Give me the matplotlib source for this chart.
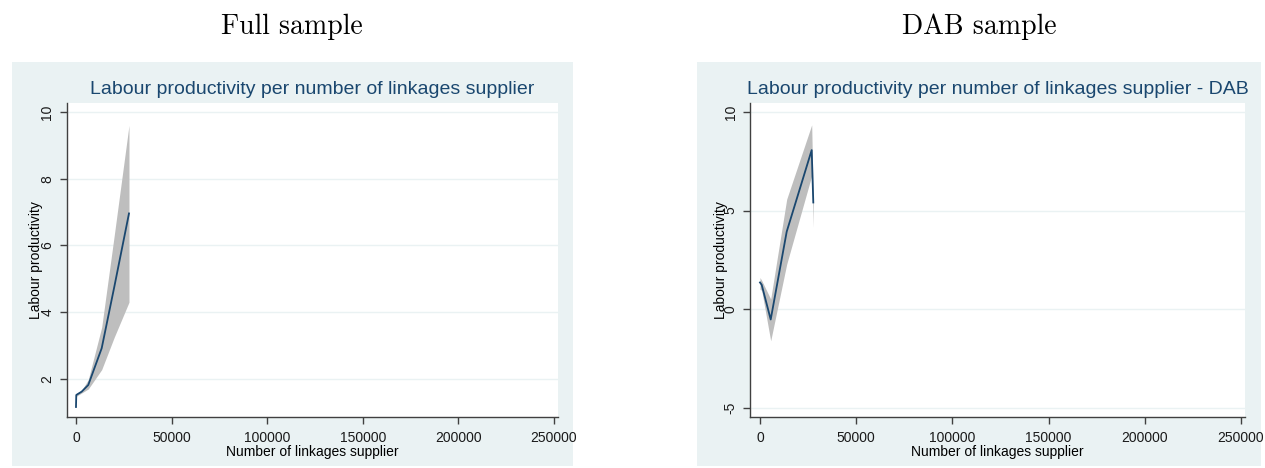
import matplotlib
matplotlib.use("Agg")
import matplotlib.pyplot as plt

# ---- data ----
full_x = [0, 150, 2980, 6430, 13440, 20000, 27720]
full_y = [1.16, 1.52, 1.62, 1.82, 2.92, 4.75, 6.96]
full_hi = [1.20, 1.56, 1.66, 1.98, 3.55, 6.30, 9.60]
full_lo = [1.12, 1.48, 1.58, 1.70, 2.28, 3.25, 4.30]

dab_x = [0, 880, 5560, 13880, 26870, 27700]
dab_y = [1.35, 1.23, -0.53, 3.93, 8.07, 5.41]
dab_hi = [1.60, 1.45, 0.51, 5.58, 9.35, 5.50]
dab_lo = [1.00, 0.95, -1.61, 2.28, 6.77, 4.14]

xticks = [0, 50000, 100000, 150000, 200000, 250000]
full_yticks = [2, 4, 6, 8, 10]
dab_yticks = [-5, 0, 5, 10]

title_main = "Labour productivity per number of linkages supplier"
title_dab = "Labour productivity per number of linkages supplier - DAB"
xlabel = "Number of linkages supplier"
ylabel = "Labour productivity"

# ---- style ----
W, H = 1265, 468
BG = "#EAF2F3"
NAVY = "#1A476F"
BAND = "#BEBEBE"
SANS = ["Liberation Sans", "DejaVu Sans"]

fig = plt.figure(figsize=(W / 100, H / 100), dpi=100)
fig.patch.set_facecolor("white")


def px_rect(x0, y0, x1, y1):
    return [x0 / W, 1 - y1 / H, (x1 - x0) / W, (y1 - y0) / H]


def panel(box, axbox, x, y, lo, hi, yticks, ylim, xlim, title, ptitle, pcx, ylab_x):
    bg = fig.add_axes(px_rect(*box))
    bg.set_facecolor(BG)
    bg.set_xticks([])
    bg.set_yticks([])
    for s in bg.spines.values():
        s.set_visible(False)
    bg.set_zorder(0)

    ax = fig.add_axes(px_rect(*axbox))
    ax.set_zorder(1)
    ax.set_facecolor("white")
    ax.fill_between(x, lo, hi, color=BAND, linewidth=0, zorder=2)
    ax.plot(x, y, color=NAVY, lw=1.3, zorder=3)
    ax.set_xlim(*xlim)
    ax.set_ylim(*ylim)
    ax.set_xticks(xticks)
    ax.set_xticklabels([str(t) for t in xticks], family=SANS, fontsize=10)
    ax.set_yticks(yticks)
    ax.set_yticklabels([str(t) for t in yticks], family=SANS, fontsize=10,
                       rotation=90, va="center")
    ax.grid(axis="y", color=BG, lw=1.0, zorder=1)
    ax.set_axisbelow(True)
    for s in ("top", "right"):
        ax.spines[s].set_visible(False)
    for s in ("left", "bottom"):
        ax.spines[s].set_color("#404040")
        ax.spines[s].set_linewidth(1.0)
    ax.tick_params(axis="both", direction="out", length=5, width=1.0, color="#404040",
                   labelcolor="#1a1a1a")
    ax.tick_params(axis="x", pad=5)
    ax.tick_params(axis="y", pad=4)
    ax.set_xlabel(xlabel, family=SANS, fontsize=10, va="center")
    ax.xaxis.set_label_coords(0.5, -(452 - axbox[3]) / (axbox[3] - axbox[1]))
    ax.set_ylabel(ylabel, family=SANS, fontsize=10, va="center")
    ax.yaxis.set_label_coords(-(axbox[0] - ylab_x) / (axbox[2] - axbox[0]), 0.5)
    cx = (axbox[0] + axbox[2]) / 2
    fig.text(cx / W, 1 - 90 / H, title, family=SANS, fontsize=14, color=NAVY,
             ha="center", va="center", zorder=5)
    fig.text(pcx / W, 1 - 27 / H, ptitle, family=["cmr10", "DejaVu Serif"], fontsize=20,
             ha="center", va="center")
    return ax


panel((12, 62, 573, 466), (67, 103, 558, 417), full_x, full_y, full_lo, full_hi,
      full_yticks, (0.86, 10.27), (-4700, 252100), title_main, "Full sample", 292, 36)
panel((697, 62, 1261, 466), (750, 103, 1245, 417), dab_x, dab_y, dab_lo, dab_hi,
      dab_yticks, (-5.48, 10.46), (-5200, 252100), title_dab, "DAB sample", 979, 721)

fig.savefig("out.png", dpi=100)
